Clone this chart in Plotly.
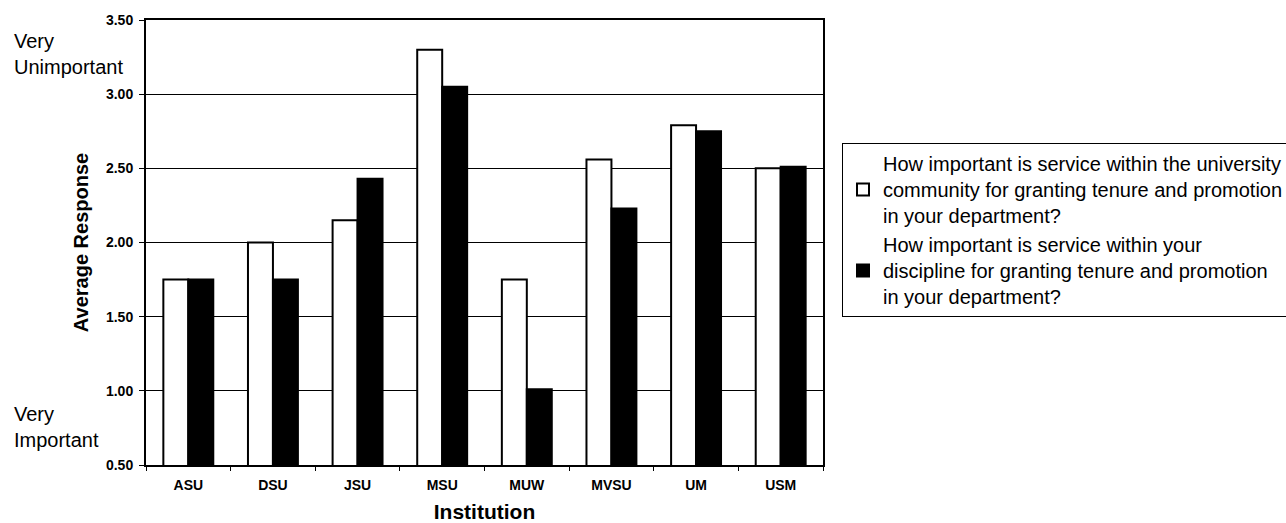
import plotly.graph_objects as go

institutions = ["ASU", "DSU", "JSU", "MSU", "MUW", "MVSU", "UM", "USM"]
university_service = [1.75, 2.00, 2.15, 3.30, 1.75, 2.56, 2.79, 2.50]
discipline_service = [1.75, 1.75, 2.43, 3.05, 1.01, 2.23, 2.75, 2.51]

name_univ = ("How important is service within the university<br>"
             "community for granting tenure and promotion<br>"
             "in your department?")
name_disc = ("How important is service within your<br>"
             "discipline for granting tenure and promotion<br>"
             "in your department?")

W, H = 1286, 523
L, R, T, B = 146, 823, 20, 465
PW, PH = R - L, B - T

fig = go.Figure()
fig.add_trace(go.Bar(x=institutions, y=university_service, name=name_univ,
                     marker=dict(color="white", line=dict(color="black", width=2))))
fig.add_trace(go.Bar(x=institutions, y=discipline_service, name=name_disc,
                     marker=dict(color="black", line=dict(color="black", width=2))))

font_family = "Liberation Sans, Arial, sans-serif"

fig.update_layout(
    width=W, height=H,
    margin=dict(l=L, r=W - R, t=T, b=H - B, autoexpand=False),
    paper_bgcolor="white", plot_bgcolor="white",
    barmode="group", bargap=0.41, bargroupgap=0,
    font=dict(family=font_family, color="black"),
    showlegend=True,
    legend=dict(
        x=(842 - L) / PW, y=(B - 143) / PH,
        xanchor="left", yanchor="top",
        bordercolor="black", borderwidth=1,
        font=dict(size=20, family=font_family, color="black"),
        tracegroupgap=4,
        traceorder="normal",
    ),
    xaxis=dict(
        showline=True, linecolor="black", linewidth=2, mirror=True,
        ticks="outside", tickson="boundaries", ticklen=4, tickcolor="black",
        ticklabelstandoff=6,
        tickfont=dict(size=14, family=font_family, color="black", weight="bold"),
        title=dict(text="<b>Institution</b>", font=dict(size=21), standoff=14),
    ),
    yaxis=dict(
        range=[0.5, 3.5], dtick=0.5, tick0=0.5, tickformat=".2f",
        showline=True, linecolor="black", linewidth=2, mirror=True,
        ticks="outside", ticklen=5, tickcolor="black",
        ticklabelstandoff=3,
        showgrid=True, gridcolor="black", gridwidth=1,
        zeroline=False,
        tickfont=dict(size=14, family=font_family, color="black", weight="bold"),
        title=dict(text="<b>Average Response</b>", font=dict(size=20), standoff=12),
    ),
)

fig.add_annotation(text="Very<br>Unimportant", xref="paper", yref="paper",
                   x=(12 - L) / PW, y=(B - 54) / PH,
                   xanchor="left", yanchor="middle", align="left", showarrow=False,
                   font=dict(size=20, family=font_family, color="black"))
fig.add_annotation(text="Very<br>Important", xref="paper", yref="paper",
                   x=(12 - L) / PW, y=(B - 427) / PH,
                   xanchor="left", yanchor="middle", align="left", showarrow=False,
                   font=dict(size=20, family=font_family, color="black"))

fig.write_html("out.html")
